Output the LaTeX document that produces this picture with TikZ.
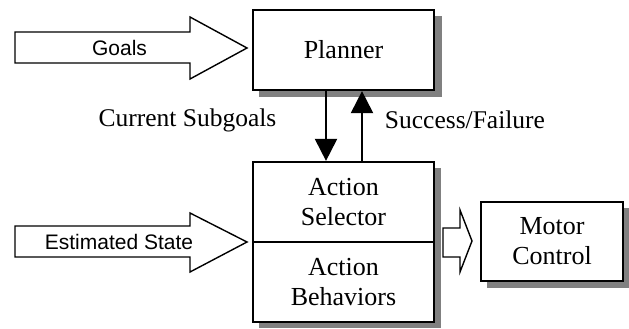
\documentclass[tikz,border=0pt]{standalone}
\usepackage{fontspec}
\setmainfont{Liberation Serif}
\newfontfamily\arial{Liberation Sans}
\usetikzlibrary{arrows.meta}
\definecolor{shadowgray}{gray}{0.5}
\begin{document}
\begin{tikzpicture}[x=1pt,y=-1pt,
  box/.style={draw,line width=2.2pt,fill=white,minimum width=181pt,minimum height=80pt,inner sep=0pt,align=center,font=\fontsize{26}{30}\selectfont},
  blockarrow/.style={draw,line width=1.4pt,fill=white,line join=miter},
  lbl/.style={font=\fontsize{25.5}{30}\selectfont,inner sep=0pt},
  slbl/.style={font=\arial\fontsize{21}{24}\selectfont,inner sep=0pt},
  flow/.style={line width=2pt,-{Triangle[width=22pt,length=22pt]}},
  shadowfill/.style={fill=shadowgray}]
\useasboundingbox (0,0) rectangle (629,329);
% shadows
\coordinate (ps1) at (259,16); \coordinate (ps2) at (442,97);
\fill[shadowfill] (ps1) rectangle (ps2);
\coordinate (as1) at (259,168); \coordinate (as2) at (441,328);
\fill[shadowfill] (as1) rectangle (as2);
\coordinate (ms1) at (487,208); \coordinate (ms2) at (629,288);
\fill[shadowfill] (ms1) rectangle (ms2);
% boxes
\node[box] (planner) at (343.5,50) {Planner};
\node[box] (sel) at (343.5,202) {Action\\Selector};
\node[box] (beh) at (343.5,282) {Action\\Behaviors};
\node[box,minimum width=142pt,minimum height=79pt] (motor) at (552,241.5) {Motor\\Control};
% block arrows
\coordinate (gtip) at (247,48);
\draw[blockarrow] (15,32) -- (190,32) -- (190,17) -- (gtip) -- (190,79) -- (190,63) -- (15,63) -- cycle;
\node[slbl] (goals) at (119.5,48) {Goals};
\coordinate (etip) at (247,242);
\draw[blockarrow] (15,226) -- (190,226) -- (190,213) -- (etip) -- (190,272) -- (190,257) -- (15,257) -- cycle;
\node[slbl] (est) at (119,242) {Estimated State};
\coordinate (mtip) at (472,241);
\draw[blockarrow] (443,228) -- (460,228) -- (460,210) -- (mtip) -- (460,272) -- (460,257) -- (443,257) -- cycle;
% flows
\draw[flow] ([xshift=-17.5pt]planner.south) -- ([xshift=-17.5pt]sel.north);
\draw[flow] ([xshift=18.5pt]sel.north) -- ([xshift=18.5pt]planner.south);
\node[lbl] (cur) at (187.5,120) {Current Subgoals};
\node[lbl] (succ) at (465,120) {Success/Failure};
\end{tikzpicture}
\end{document}
